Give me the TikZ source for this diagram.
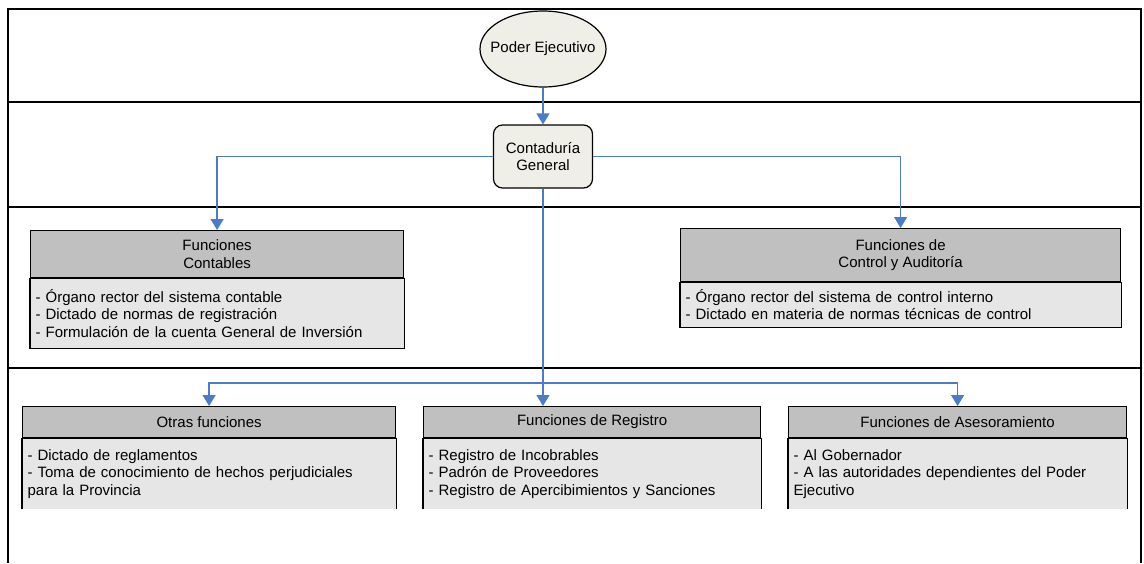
\documentclass[tikz,border=0pt]{standalone}
\usepackage{fontspec}
\setmainfont{Liberation Sans}
\usetikzlibrary{arrows.meta,positioning,shapes.geometric}
\definecolor{flecha}{HTML}{4A7CC9}
\definecolor{cabeza}{HTML}{C0C0C0}
\definecolor{cuerpo}{HTML}{E6E6E6}
\definecolor{crema}{HTML}{EFEFE7}

\begin{document}
\begin{tikzpicture}[x=1pt,y=-1pt,line width=1.2pt,>=Stealth,
  font=\fontsize{15}{17.5}\selectfont,
  flujo/.style={draw=flecha,line width=1.3pt,-{Triangle[length=11pt,width=13pt]}},
  cabecera/.style={draw,fill=cabeza,anchor=north west,align=center,inner sep=0pt},
  cuerpobox/.style={fill=cuerpo,anchor=north west,align=left,inner xsep=5pt,inner ysep=0pt}]
\useasboundingbox (0,0) rectangle (1144,563);
% marco y franjas
\draw[line width=1.6pt] (8,563) -- (8,9) -- (1141,9) -- (1141,563);
\foreach \y in {102,207,368}
  \draw[line width=2pt] (8,\y) -- (1141,\y);
% nivel 1 y 2
\node[ellipse,draw,fill=crema,minimum width=126,minimum height=76,inner xsep=-8pt,inner ysep=0pt] (poder) at (543,49) {Poder Ejecutivo};
\node[draw,fill=crema,rounded corners=9pt,minimum width=99,minimum height=63,align=center] (conta) at (543,156.5) {Contaduría\\General};
% funciones contables
\node[cabecera,minimum width=373,minimum height=47] (contH) at (30,230) {Funciones\\Contables};
\node[cuerpobox,minimum width=373,minimum height=69,text width=363] (contB) at (contH.south west)
  {- Órgano rector del sistema contable\\- Dictado de normas de registración\\- Formulación de la cuenta General de Inversión};
\draw (contB.north west) rectangle (contB.south east);
% funciones de control
\node[cabecera,minimum width=440,minimum height=53] (ctrlH) at (680,228) {Funciones de\\Control y Auditoría};
\node[cuerpobox,minimum width=440,minimum height=44,text width=430] (ctrlB) at (ctrlH.south west)
  {- Órgano rector del sistema de control interno\\- Dictado en materia de normas técnicas de control};
\draw (ctrlB.north west) rectangle (ctrlB.south east);
% fila inferior (abierta abajo)
\node[cabecera,minimum width=373,minimum height=31] (otrH) at (22,406) {Otras funciones};
\node[cuerpobox,minimum width=373,minimum height=70,text width=363] (otrB) at (otrH.south west)
  {- Dictado de reglamentos\\- Toma de conocimiento de hechos perjudiciales\\para la Provincia};
\node[cabecera,minimum width=337,minimum height=31] (regH) at (423,406) {Funciones de Registro};
\node[cuerpobox,minimum width=337,minimum height=70,text width=327] (regB) at (regH.south west)
  {- Registro de Incobrables\\- Padrón de Proveedores\\- Registro de Apercibimientos y Sanciones};
\node[cabecera,minimum width=338,minimum height=31] (aseH) at (788,406) {Funciones de Asesoramiento};
\node[cuerpobox,minimum width=338,minimum height=70,text width=328] (aseB) at (aseH.south west)
  {- Al Gobernador\\- A las autoridades dependientes del Poder\\Ejecutivo};
\foreach \b in {otrB,regB,aseB}
  \draw (\b.south west) -- (\b.north west) -- (\b.north east) -- (\b.south east);
% conectores
\draw[flujo] (poder) -- (conta);
\draw[flujo] (conta.west) -| (contH.north);
\draw[flujo] (conta.east) -| (ctrlH.north);
\draw[flujo] (conta.south) -- (conta.south |- regH.north);
\coordinate (cruce) at (543,383);
\draw[flujo] (cruce) -| (otrH.north);
\draw[flujo] (cruce) -| (aseH.north);
\end{tikzpicture}
\end{document}
